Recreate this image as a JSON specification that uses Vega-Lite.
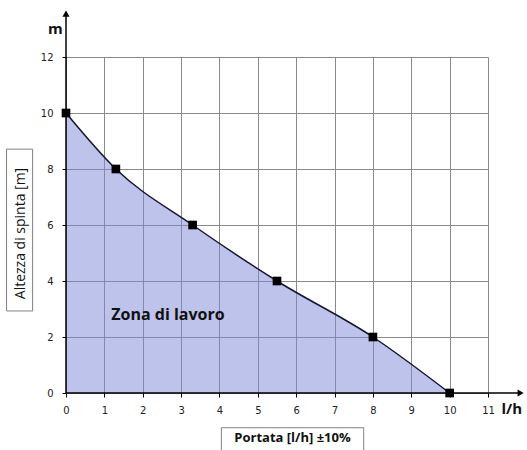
{
  "$schema": "https://vega.github.io/schema/vega-lite/v6.json",
  "width": 422,
  "height": 336,
  "autosize": {"type": "none"},
  "padding": {"left": 66, "top": 57, "right": 39, "bottom": 57},
  "background": "white",
  "config": {
    "view": {"stroke": null},
    "axis": {
      "grid": true,
      "gridColor": "#8a8a8a",
      "gridWidth": 1,
      "domain": false,
      "ticks": true,
      "tickColor": "#000000",
      "tickSize": 4,
      "labelOverlap": false,
      "labelFlush": false,
      "labelFont": "DejaVu Sans",
      "labelFontSize": 10,
      "labelColor": "#222222",
      "titleFont": "Open Sans",
      "titleFontSize": 13,
      "titleColor": "#111111"
    }
  },
  "datasets": {
    "curve": [
      {"portata": 0, "altezza": 10},
      {"portata": 1.3, "altezza": 8},
      {"portata": 3.3, "altezza": 6},
      {"portata": 5.5, "altezza": 4},
      {"portata": 8, "altezza": 2},
      {"portata": 10, "altezza": 0}
    ],
    "one": [{}]
  },
  "layer": [
    {
      "data": {"name": "curve"},
      "mark": {"type": "area", "interpolate": "monotone", "color": "#7d87d7", "fillOpacity": 0.5},
      "encoding": {
        "x": {
          "field": "portata", "type": "quantitative",
          "scale": {"domain": [0, 11], "nice": false, "zero": false},
          "axis": {
            "values": [0, 1, 2, 3, 4, 5, 6, 7, 8, 9, 10, 11],
            "tickCount": 30,
            "format": "d",
            "labelPadding": 8,
            "title": "Portata [l/h] ±10%",
            "titleFontWeight": "bold",
            "titleX": 226,
            "titleY": 44,
            "titleBaseline": "middle",
            "titleAlign": "center"
          }
        },
        "y": {
          "field": "altezza", "type": "quantitative",
          "scale": {"domain": [0, 12], "nice": false, "zero": false},
          "axis": {
            "values": [0, 2, 4, 6, 8, 10, 12],
            "tickCount": 30,
            "format": "d",
            "labelPadding": 9,
            "title": "Altezza di spinta [m]",
            "titleFontWeight": "normal",
            "titleFontSize": 14,
            "titleX": -46,
            "titleY": 176,
            "titleAngle": -90,
            "titleBaseline": "middle",
            "titleAlign": "center"
          }
        }
      }
    },
    {
      "data": {"name": "curve"},
      "mark": {"type": "line", "interpolate": "monotone", "color": "#15152e", "strokeWidth": 1.5},
      "encoding": {
        "x": {"field": "portata", "type": "quantitative"},
        "y": {"field": "altezza", "type": "quantitative"}
      }
    },
    {
      "data": {"name": "curve"},
      "mark": {"type": "point", "shape": "square", "filled": true, "color": "#000000", "opacity": 1, "size": 75},
      "encoding": {
        "x": {"field": "portata", "type": "quantitative"},
        "y": {"field": "altezza", "type": "quantitative"}
      }
    },
    {
      "data": {"name": "one"},
      "mark": {"type": "rule", "color": "#000000", "strokeWidth": 1.5},
      "encoding": {"x": {"datum": 0}, "x2": {"datum": 11.85}, "y": {"datum": 0}}
    },
    {
      "data": {"name": "one"},
      "mark": {"type": "rule", "color": "#000000", "strokeWidth": 1.5},
      "encoding": {"x": {"datum": 0}, "y": {"datum": 0}, "y2": {"datum": 13.5}}
    },
    {
      "data": {"name": "one"},
      "mark": {"type": "point", "shape": "triangle-right", "filled": true, "color": "#000000", "opacity": 1, "size": 50},
      "encoding": {"x": {"datum": 11.85}, "y": {"datum": 0}}
    },
    {
      "data": {"name": "one"},
      "mark": {"type": "point", "shape": "triangle-up", "filled": true, "color": "#000000", "opacity": 1, "size": 50},
      "encoding": {"x": {"datum": 0}, "y": {"datum": 13.55}}
    },
    {
      "data": {"name": "one"},
      "mark": {"type": "text", "text": "m", "font": "Open Sans", "fontSize": 15, "fontWeight": "bold", "color": "#111111"},
      "encoding": {"x": {"datum": -0.28}, "y": {"datum": 13.0}}
    },
    {
      "data": {"name": "one"},
      "mark": {"type": "text", "text": "l/h", "font": "Open Sans", "fontSize": 15, "fontWeight": "bold", "color": "#111111"},
      "encoding": {"x": {"datum": 11.62}, "y": {"datum": -0.57}}
    },
    {
      "data": {"name": "one"},
      "mark": {"type": "text", "text": "Zona di lavoro", "font": "Open Sans", "fontSize": 16, "fontWeight": "bold", "align": "left", "color": "#111111"},
      "encoding": {"x": {"datum": 1.18}, "y": {"datum": 2.8}}
    },
    {
      "data": {"name": "one"},
      "mark": {"type": "rect", "fillOpacity": 0, "stroke": "#808080", "strokeWidth": 1},
      "encoding": {"x": {"datum": 4.05}, "x2": {"datum": 7.76}, "y": {"datum": -1.24}, "y2": {"datum": -2.2}}
    },
    {
      "data": {"name": "one"},
      "mark": {"type": "rect", "fillOpacity": 0, "stroke": "#808080", "strokeWidth": 1},
      "encoding": {"x": {"datum": -1.55}, "x2": {"datum": -0.87}, "y": {"datum": 2.93}, "y2": {"datum": 8.71}}
    }
  ]
}
